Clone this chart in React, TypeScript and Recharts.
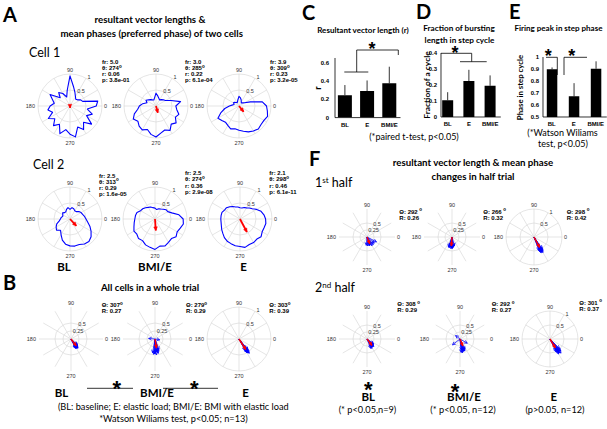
import React from "react"
import {
  RadarChart,
  PolarGrid,
  PolarAngleAxis,
  PolarRadiusAxis,
  Radar,
  BarChart,
  Bar,
  XAxis,
  YAxis,
  ErrorBar,
} from "recharts"

const ARIAL = '"Liberation Sans", Arial, sans-serif'
const LATO = 'Lato, "Open Sans", sans-serif'

// polar grid
const SPOKES = [0, 30, 60, 90, 120, 150, 180, 210, 240, 270, 300, 330]
const ANGLE_LABELS = [0, 90, 180, 270]
const PHASE_BINS = [
  0, 10, 20, 30, 40, 50, 60, 70, 80, 90, 100, 110, 120, 130, 140, 150, 160, 170,
  180, 190, 200, 210, 220, 230, 240, 250, 260, 270, 280, 290, 300, 310, 320, 330, 340, 350,
]

// panel A: normalised firing vs step phase
const C1_BL = [0.82, 0.88, 0.42, 0.38, 0.3, 0.28, 0.34, 0.45, 0.62, 0.94, 0.5, 0.3, 0.45, 0.55, 0.4, 0.72, 0.58, 0.5, 0.62, 0.7, 0.58, 0.78, 0.62, 0.8, 0.66, 0.92, 0.75, 0.88, 0.98, 0.7, 0.85, 0.66, 0.88, 0.6, 0.74, 0.55]
const C1_BMI = [0.62, 0.78, 0.5, 0.34, 0.3, 0.26, 0.22, 0.26, 0.32, 0.4, 0.26, 0.2, 0.22, 0.26, 0.3, 0.36, 0.3, 0.42, 0.52, 0.58, 0.72, 0.82, 0.74, 0.82, 0.86, 0.78, 0.9, 0.97, 0.86, 0.8, 0.88, 0.74, 0.82, 0.7, 0.76, 0.66]
const C1_E = [0.86, 0.74, 0.38, 0.2, 0.15, 0.12, 0.14, 0.2, 0.26, 0.3, 0.2, 0.14, 0.12, 0.14, 0.18, 0.2, 0.16, 0.2, 0.3, 0.45, 0.6, 0.76, 0.7, 0.66, 0.7, 0.76, 0.72, 0.76, 0.8, 0.86, 0.9, 0.94, 0.9, 0.9, 0.95, 0.9]
const C2_BL = [0.5, 0.46, 0.42, 0.4, 0.36, 0.3, 0.3, 0.34, 0.36, 0.3, 0.36, 0.32, 0.26, 0.26, 0.3, 0.26, 0.24, 0.28, 0.3, 0.34, 0.44, 0.5, 0.55, 0.46, 0.56, 0.7, 0.8, 0.84, 0.86, 0.85, 0.9, 0.92, 0.86, 0.76, 0.66, 0.56]
const C2_BMI = [0.88, 0.76, 0.56, 0.46, 0.45, 0.4, 0.36, 0.34, 0.3, 0.34, 0.36, 0.4, 0.42, 0.46, 0.5, 0.52, 0.6, 0.62, 0.63, 0.66, 0.7, 0.76, 0.74, 0.8, 0.78, 0.86, 0.9, 0.95, 0.86, 0.9, 0.84, 0.8, 0.86, 0.8, 0.84, 0.9]
const C2_E = [0.8, 0.76, 0.7, 0.6, 0.5, 0.45, 0.4, 0.38, 0.35, 0.35, 0.38, 0.4, 0.45, 0.5, 0.55, 0.56, 0.6, 0.6, 0.6, 0.6, 0.62, 0.66, 0.7, 0.76, 0.8, 0.82, 0.85, 0.86, 0.9, 0.85, 0.85, 0.82, 0.86, 0.8, 0.8, 0.82]

const CELL_FR = ["5.0", "3.0", "3.9", "2.5", "2.5", "2.1"]
const CELL_THETA = [274, 285, 309, 313, 274, 298]
const CELL_R = [0.06, 0.22, 0.23, 0.29, 0.36, 0.46]
const CELL_P = ["3.8e-01", "6.1e-04", "3.2e-05", "1.6e-05", "2.9e-08", "6.1e-11"]

// panel B: per-cell vectors, whole trial
const B_BL_DEG = [296, 300, 303, 305, 308, 310, 312, 315, 318, 300, 305, 310, 298]
const B_BL_LEN = [0.33, 0.34, 0.28, 0.35, 0.36, 0.32, 0.3, 0.29, 0.26, 0.3, 0.34, 0.28, 0.31]
const B_BMI_DEG = [175, 350, 260, 265, 268, 270, 272, 275, 278, 280, 283, 285, 290]
const B_BMI_LEN = [0.2, 0.15, 0.44, 0.48, 0.47, 0.45, 0.41, 0.5, 0.38, 0.42, 0.46, 0.4, 0.35]
const B_E_DEG = [298, 300, 301, 302, 303, 303, 304, 305, 305, 306, 307, 308, 310]
const B_E_LEN = [0.4, 0.48, 0.5, 0.42, 0.52, 0.46, 0.47, 0.5, 0.53, 0.55, 0.38, 0.45, 0.44]
const B_THETA = [307, 279, 303]
const B_R = [0.27, 0.29, 0.39]

// panel F: half trials
const F1_BL_DEG = [265, 275, 285, 290, 292, 300, 310, 320, 333]
const F1_BL_LEN = [0.3, 0.32, 0.33, 0.28, 0.3, 0.36, 0.35, 0.34, 0.38]
const F1_BMI_DEG = [250, 255, 258, 260, 262, 265, 268, 270, 272, 275, 280, 285]
const F1_BMI_LEN = [0.38, 0.4, 0.34, 0.36, 0.33, 0.42, 0.37, 0.4, 0.41, 0.38, 0.35, 0.33]
const F1_E_DEG = [290, 292, 294, 295, 296, 298, 298, 300, 300, 302, 303, 305]
const F1_E_LEN = [0.5, 0.55, 0.6, 0.62, 0.52, 0.58, 0.6, 0.56, 0.64, 0.6, 0.55, 0.5]
const F2_BL_DEG = [292, 298, 300, 305, 310, 312, 315, 320, 325]
const F2_BL_LEN = [0.36, 0.38, 0.32, 0.35, 0.34, 0.36, 0.32, 0.3, 0.28]
const F2_BMI_DEG = [142, 218, 330, 275, 278, 280, 283, 285, 288, 290, 292, 295]
const F2_BMI_LEN = [0.2, 0.34, 0.3, 0.48, 0.4, 0.5, 0.47, 0.45, 0.42, 0.44, 0.46, 0.4]
const F2_E_DEG = [295, 298, 300, 300, 302, 303, 305, 306, 308, 310, 312, 315]
const F2_E_LEN = [0.5, 0.45, 0.55, 0.62, 0.58, 0.5, 0.6, 0.52, 0.64, 0.55, 0.58, 0.48]
const F1_THETA = [292, 266, 298]
const F1_R = [0.26, 0.32, 0.42]
const F2_THETA = [308, 292, 301]
const F2_R = [0.29, 0.27, 0.37]

// panels C, D, E
const BAR_CATS = ["BL", "E", "BMI/E"]
const VEC_LEN_MEAN = [0.245, 0.29, 0.375]
const VEC_LEN_ERR = [0.11, 0.115, 0.18]
const BURST_MEAN = [0.105, 0.225, 0.195]
const BURST_ERR = [0.05, 0.07, 0.065]
const PEAK_MEAN = [0.898, 0.672, 0.902]
const PEAK_ERR = [0.015, 0.11, 0.062]

const GRID = "#d4d4d4"

// rows without a value for this series come back at the centre; drop them
const validPoints = (props: any) =>
  (props.points || []).filter(
    (p: any) => p.value != null && Number.isFinite(Number(p.value)) && Number.isFinite(p.x) && Number.isFinite(p.y)
  )

const outlineShape = (props: any) => {
  const pts = validPoints(props)
  if (!pts.length) return <g />
  const d = pts.map((p: any, i: number) => `${i ? "L" : "M"}${p.x.toFixed(2)},${p.y.toFixed(2)}`).join(" ") + " Z"
  return <path d={d} fill="none" stroke="#0000ff" strokeWidth={1.1} strokeLinejoin="round" />
}

function vectorShape(color: string, width: number, head: number, filled: boolean, c: number) {
  return (props: any) => {
    const pts = validPoints(props)
    return (
      <g>
        {pts.map((p: any, i: number) => {
          const cx = p.cx ?? c
          const cy = p.cy ?? c
          const dx = p.x - cx
          const dy = p.y - cy
          const len = Math.hypot(dx, dy) || 1
          const ux = dx / len
          const uy = dy / len
          const bx = p.x - ux * head
          const by = p.y - uy * head
          const w = head * 0.5
          const hp = `${bx - uy * w},${by + ux * w} ${p.x},${p.y} ${bx + uy * w},${by - ux * w}`
          return (
            <g key={i}>
              <line x1={cx} y1={cy} x2={p.x} y2={p.y} stroke={color} strokeWidth={width} />
              {filled ? (
                <polygon points={hp} fill={color} stroke={color} strokeWidth={0.5} />
              ) : (
                <polyline points={hp} fill="none" stroke={color} strokeWidth={width} />
              )}
            </g>
          )
        })}
      </g>
    )
  }
}

const angleTick = (p: any) => {
  const v = Number(p.payload?.value)
  if (!ANGLE_LABELS.includes(v)) return <g />
  let anchor = "middle"
  let dx = 0
  let dy = 0
  if (v === 0) { anchor = "start"; dy = 2 }
  if (v === 90) { dy = -0.5 }
  if (v === 180) { anchor = "end"; dx = -1; dy = 2 }
  if (v === 270) { dy = 4.5 }
  return (
    <text x={p.x + dx} y={p.y + dy} textAnchor={anchor} fontSize={5.5} fill="#333" fontFamily={ARIAL}>
      {v}
    </text>
  )
}

const makeRadiusTick = (rmax: number) => (p: any) => {
  const v = Number(p.payload?.value)
  if (!(v === rmax || v === rmax / 2)) return <g />
  return (
    <text x={p.x + 3} y={p.y + 1} textAnchor="middle" fontSize={5.5} fill="#333" fontFamily={ARIAL}>
      {v}
    </text>
  )
}

interface PolarProps {
  x: number
  y: number
  R: number
  rmax: number
  outline?: number[]
  vecDeg?: number[]
  vecLen?: number[]
  meanDeg: number
  meanLen: number
}

function PolarPlot({ x, y, R, rmax, outline, vecDeg, vecLen, meanDeg, meanLen }: PolarProps) {
  const S = 2 * R + 30
  const c = S / 2
  const rows: any[] = outline
    ? PHASE_BINS.map((d, i) => ({ deg: d, r: outline[i] }))
    : (vecDeg || []).map((d, i) => ({ deg: d, r: (vecLen || [])[i] }))
  rows.push({ deg: meanDeg, mean: meanLen })
  const big = !outline
  return (
    <div style={{ position: "absolute", left: x - c, top: y - c, width: S, height: S }}>
      <RadarChart
        width={S}
        height={S}
        data={rows}
        cx={c}
        cy={c}
        outerRadius={R}
        startAngle={0}
        endAngle={360}
        margin={{ top: 0, right: 0, bottom: 0, left: 0 }}
      >
        <PolarGrid gridType="circle" polarAngles={SPOKES} stroke={GRID} strokeWidth={0.6} />
        <PolarAngleAxis
          dataKey="deg"
          type="number"
          domain={[0, 360]}
          ticks={SPOKES as any}
          tick={angleTick}
          tickSize={2}
          tickLine={false}
          axisLine={false}
        />
        <PolarRadiusAxis
          type="number"
          domain={[0, rmax]}
          ticks={[0, rmax / 2, rmax] as any}
          angle={60}
          axisLine={false}
          tick={makeRadiusTick(rmax)}
        />
        {outline ? (
          <Radar dataKey="r" shape={outlineShape} isAnimationActive={false} dot={false} />
        ) : (
          <Radar dataKey="r" shape={vectorShape("#0000ff", 0.75, 3, false, c)} isAnimationActive={false} dot={false} />
        )}
        <Radar
          dataKey="mean"
          shape={vectorShape("#ff0000", big ? 1.5 : 1.8, big ? 3.2 : 3.6, true, c)}
          isAnimationActive={false}
          dot={false}
        />
      </RadarChart>
    </div>
  )
}

interface BarProps {
  left: number
  top: number
  plotW: number
  plotH: number
  xDomain: number[]
  yDomain: number[]
  yTicks: number[]
  means: number[]
  errs: number[]
  barSize: number
  yTickSize: number
}

function BarPanel({ left, top, plotW, plotH, xDomain, yDomain, yTicks, means, errs, barSize, yTickSize }: BarProps) {
  const yw = 22
  const mt = 4
  const xh = 14
  const data = BAR_CATS.map((c, i) => ({ x: i + 1, name: c, mean: means[i], err: [0, errs[i]] }))
  return (
    <div style={{ position: "absolute", left: left - yw, top: top - mt }}>
      <BarChart
        width={yw + plotW + 2}
        height={mt + plotH + xh}
        data={data}
        margin={{ top: mt, right: 2, bottom: 0, left: 0 }}
      >
        <XAxis
          dataKey="x"
          type="number"
          domain={xDomain}
          ticks={[1, 2, 3]}
          allowDataOverflow
          tickFormatter={(v: number) => BAR_CATS[v - 1]}
          height={xh}
          tickLine={false}
          tickSize={3}
          axisLine={{ stroke: "#000", strokeWidth: 0.8 }}
          tick={{ fontSize: 6, fontWeight: 700, fill: "#000", fontFamily: ARIAL }}
          interval={0}
        />
        <YAxis
          type="number"
          domain={yDomain}
          ticks={yTicks}
          allowDataOverflow
          width={yw}
          tickLine={false}
          tickSize={yTickSize}
          axisLine={{ stroke: "#000", strokeWidth: 0.8 }}
          tick={{ fontSize: 6, fontWeight: 700, fill: "#000", fontFamily: ARIAL }}
          interval={0}
        />
        <Bar dataKey="mean" fill="#000" barSize={barSize} isAnimationActive={false}>
          <ErrorBar dataKey="err" width={0} stroke="#000" strokeWidth={0.8} direction="y" />
        </Bar>
      </BarChart>
    </div>
  )
}

const T = ({ x, y, s = 8, w = 400, f = LATO, a = "middle", children, rot }: any) => (
  <text
    x={x}
    y={y}
    fontSize={s}
    fontWeight={w}
    fontFamily={f}
    textAnchor={a}
    fill="#000"
    transform={rot ? `rotate(${rot} ${x} ${y})` : undefined}
  >
    {children}
  </text>
)

const Stats = ({ x, y, lines }: { x: number; y: number; lines: React.ReactNode[] }) => (
  <g>
    {lines.map((l, i) => (
      <text key={i} x={x} y={y + 2 + i * 6.1} fontSize={6} fontWeight={700} fontFamily={ARIAL} fill="#000">
        {l}
      </text>
    ))}
  </g>
)

const deg = (v: number, gap = "") => (
  <>
    {v}
    {gap}
    <tspan fontSize={4.5} dy={-2.5}>o</tspan>
  </>
)

// asterisk glyph centred on (x, y)
const Star = ({ x, y, s = 22 }: { x: number; y: number; s?: number }) => (
  <text x={x} y={y + s * 0.57} fontSize={s} fontWeight={700} fontFamily={ARIAL} textAnchor="middle" fill="#000">
    *
  </text>
)

export default function App() {
  const cellX = [[70, 156, 239], [70, 155, 240]]
  const cellY = [106, 219]
  const cellData = [[C1_BL, C1_BMI, C1_E], [C2_BL, C2_BMI, C2_E]]
  const cellStatPos = [
    [[102, 62], [185, 62], [270, 62]],
    [[99, 175.5], [185, 173.3], [269.3, 173.3]],
  ]
  const bX = [71, 155, 239]
  const bVec = [[B_BL_DEG, B_BL_LEN], [B_BMI_DEG, B_BMI_LEN], [B_E_DEG, B_E_LEN]]
  const rmaxes = [0.5, 0.5, 1]
  const bStatX = [101.7, 186, 269.3]
  const f1X = [367, 452, 534]
  const f2X = [367, 460, 550]
  const f1Vec = [[F1_BL_DEG, F1_BL_LEN], [F1_BMI_DEG, F1_BMI_LEN], [F1_E_DEG, F1_E_LEN]]
  const f2Vec = [[F2_BL_DEG, F2_BL_LEN], [F2_BMI_DEG, F2_BMI_LEN], [F2_E_DEG, F2_E_LEN]]
  const f1Stat = [[399.3, 211.7], [483.3, 211.7], [566.7, 211.7]]
  const f2Stat = [[397.3, 304], [491.7, 304], [579.3, 302.7]]

  return (
    <div style={{ position: "absolute", left: 0, top: 0, width: 607, height: 429, background: "#fff", overflow: "hidden" }}>
      {cellData.map((row, r) =>
        row.map((outline, k) => (
          <PolarPlot
            key={`c${r}${k}`}
            x={cellX[r][k]}
            y={cellY[r]}
            R={32}
            rmax={1}
            outline={outline}
            meanDeg={CELL_THETA[r * 3 + k]}
            meanLen={CELL_R[r * 3 + k]}
          />
        ))
      )}
      {bVec.map(([d, l], k) => (
        <PolarPlot key={`b${k}`} x={bX[k]} y={339} R={32} rmax={rmaxes[k]} vecDeg={d} vecLen={l} meanDeg={B_THETA[k]} meanLen={B_R[k]} />
      ))}
      {f1Vec.map(([d, l], k) => (
        <PolarPlot key={`f1${k}`} x={f1X[k]} y={237} R={28} rmax={rmaxes[k]} vecDeg={d} vecLen={l} meanDeg={F1_THETA[k]} meanLen={F1_R[k]} />
      ))}
      {f2Vec.map(([d, l], k) => (
        <PolarPlot key={`f2${k}`} x={f2X[k]} y={339} R={28} rmax={rmaxes[k]} vecDeg={d} vecLen={l} meanDeg={F2_THETA[k]} meanLen={F2_R[k]} />
      ))}

      <BarPanel left={335} top={57.9} plotW={65.5} plotH={59.6} xDomain={[0.55, 3.5]} yDomain={[0, 0.65]} yTicks={[0, 0.2, 0.4, 0.6]} means={VEC_LEN_MEAN} errs={VEC_LEN_ERR} barSize={14} yTickSize={4} />
      <BarPanel left={441} top={53.3} plotW={59.8} plotH={64} xDomain={[0.68, 3.5]} yDomain={[0, 0.4]} yTicks={[0, 0.1, 0.2, 0.3, 0.4]} means={BURST_MEAN} errs={BURST_ERR} barSize={11} yTickSize={2} />
      <BarPanel left={543.3} top={56.7} plotW={63.8} plotH={60} xDomain={[0.6, 3.5]} yDomain={[0.5, 1]} yTicks={[0.5, 0.6, 0.7, 0.8, 0.9, 1]} means={PEAK_MEAN} errs={PEAK_ERR} barSize={10.5} yTickSize={2} />

      <svg width={607} height={429} style={{ position: "absolute", left: 0, top: 0, pointerEvents: "none" }}>
        {/* panel letters */}
        <T x={3} y={21.5} s={20} w={700} a="start">A</T>
        <T x={3} y={290} s={20} w={700} a="start">B</T>
        <T x={302} y={20} s={20} w={700} a="start">C</T>
        <T x={416} y={19} s={20} w={700} a="start">D</T>
        <T x={509} y={19} s={20} w={700} a="start">E</T>
        <T x={309} y={165.5} s={20} w={700} a="start">F</T>

        {/* A */}
        <T x={150} y={23} s={9.7} w={700}>resultant vector lengths &amp;</T>
        <T x={151.7} y={37} s={9.7} w={700}>mean phases (preferred phase) of two cells</T>
        <T x={29} y={57} s={12.5} a="start">Cell 1</T>
        <T x={33} y={168.5} s={12.5} a="start">Cell 2</T>
        {cellStatPos.map((row, r) =>
          row.map(([sx, sy], k) => {
            const i = r * 3 + k
            return (
              <Stats
                key={`s${i}`}
                x={sx}
                y={sy}
                lines={[`fr: ${CELL_FR[i]}`, <>θ: {deg(CELL_THETA[i])}</>, `r: ${CELL_R[i].toFixed(2)}`, `p: ${CELL_P[i]}`]}
              />
            )
          })
        )}
        <T x={64} y={270.5} s={11.5} w={700}>BL</T>
        <T x={155} y={270.5} s={11.5} w={700}>BMI/E</T>
        <T x={243.5} y={270.5} s={11.5} w={700}>E</T>

        {/* B */}
        <T x={150} y={290.5} s={9.7} w={700}>All cells in a whole trial</T>
        {bStatX.map((sx, k) => (
          <Stats key={`bs${k}`} x={sx} y={305} lines={[<>Θ: {deg(B_THETA[k])}</>, `R: ${B_R[k].toFixed(2)}`]} />
        ))}
        <T x={61.5} y={397} s={11.5} w={700}>BL</T>
        <T x={157} y={397} s={11.5} w={700}>BMI/E</T>
        <T x={245.5} y={397} s={11.5} w={700}>E</T>
        <line x1={87} y1={388.3} x2={133} y2={388.3} stroke="#000" strokeWidth={0.8} />
        <line x1={163} y1={388.3} x2={218} y2={388.3} stroke="#000" strokeWidth={0.8} />
        <Star x={116.7} y={383} />
        <Star x={194.3} y={383} />
        <T x={173.3} y={409.5} s={9.2}>(BL: baseline; E: elastic load; BMI/E: BMI with elastic load</T>
        <T x={173.5} y={422} s={9.2}>*Watson Wiliams test, p&lt;0.05; n=13)</T>

        {/* C */}
        <T x={363} y={33} s={8} w={700}>Resultant vector length (r)</T>
        <T x={320.5} y={88} s={9} w={700} rot={-90}>r</T>
        <polyline points="344.3,72 368.3,72" fill="none" stroke="#000" strokeWidth={0.8} />
        <polyline points="356.7,72 356.7,50 398.3,50 398.3,55" fill="none" stroke="#000" strokeWidth={0.8} />
        <Star x={372} y={44.5} s={18} />
        <T x={414} y={139.5} s={9}>(*paired t-test, p&lt;0.05)</T>

        {/* D */}
        <T x={459} y={31} s={8.2} w={700}>Fraction of bursting</T>
        <T x={459.5} y={43} s={8.2} w={700}>length in step cycle</T>
        <T x={430} y={85} s={8.4} w={700} rot={-90}>Fraction of a cycle</T>
        <polyline points="441,53.3 471.7,53.3 471.7,61.7" fill="none" stroke="#000" strokeWidth={0.8} />
        <polyline points="460,61.7 486.7,61.7" fill="none" stroke="#000" strokeWidth={0.8} />
        <Star x={455} y={48.5} s={18} />

        {/* E */}
        <T x={558.5} y={31} s={8} w={700}>Firing peak in step phase</T>
        <T x={522.5} y={87.5} s={7.8} w={700} rot={-90}>Phase in step cycle</T>
        <polyline points="546,57.3 557.3,57.3 557.3,75" fill="none" stroke="#000" strokeWidth={0.8} />
        <polyline points="564,75 564,57.3 587,57.3" fill="none" stroke="#000" strokeWidth={0.8} />
        <Star x={548.3} y={51.5} s={18} />
        <Star x={571.7} y={51.5} s={18} />
        <T x={562.5} y={135.5} s={9}>(*Watson Wiliams</T>
        <T x={563} y={147} s={9}>test, p&lt;0.05)</T>

        {/* F */}
        <T x={473} y={166} s={9.7} w={700}>resultant vector length &amp; mean phase</T>
        <T x={473} y={180} s={9.7} w={700}>changes in half trial</T>
        <T x={315} y={187} s={12.5} a="start">
          1<tspan fontSize={8} dy={-4.5}>st</tspan>
          <tspan dy={4.5}> half</tspan>
        </T>
        <T x={315} y={292} s={12.5} a="start">
          2<tspan fontSize={8} dy={-4.5}>nd</tspan>
          <tspan dy={4.5}> half</tspan>
        </T>
        {f1Stat.map(([sx, sy], k) => (
          <Stats key={`f1s${k}`} x={sx} y={sy} lines={[<>Θ: {deg(F1_THETA[k], " ")}</>, `R: ${F1_R[k].toFixed(2)}`]} />
        ))}
        {f2Stat.map(([sx, sy], k) => (
          <Stats key={`f2s${k}`} x={sx} y={sy} lines={[<>Θ: {deg(F2_THETA[k], " ")}</>, `R: ${F2_R[k].toFixed(2)}`]} />
        ))}
        <Star x={368.3} y={384} />
        <Star x={455} y={386.7} />
        <T x={368.3} y={401} s={11.5} w={700}>BL</T>
        <T x={464} y={401} s={11.5} w={700}>BMI/E</T>
        <T x={553.7} y={401} s={11.5} w={700}>E</T>
        <T x={367.5} y={413} s={9.2}>(* p&lt;0.05,n=9)</T>
        <T x={463} y={413} s={9.2}>(* p&lt;0.05, n=12)</T>
        <T x={555} y={413} s={9.2}>(p&gt;0.05, n=12)</T>
      </svg>
    </div>
  )
}
